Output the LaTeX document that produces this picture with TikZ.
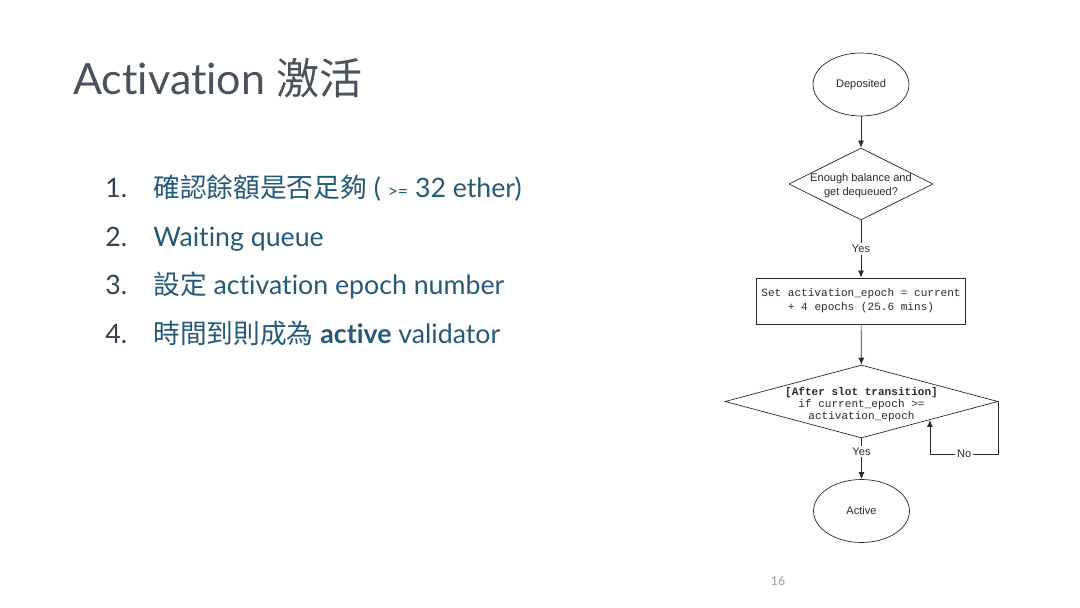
\documentclass[tikz,border=0pt]{standalone}
\usepackage{fontspec}
\setmainfont{Lato}[Ligatures=NoCommon]
\newfontfamily\cjk{Noto Sans CJK TC}
\newfontfamily\flowsans{Liberation Sans}
\newfontfamily\flowmono{Liberation Mono}
\usetikzlibrary{shapes.geometric,arrows.meta}

\definecolor{titlegray}{HTML}{4A525C}
\definecolor{itemblue}{HTML}{235A78}
\definecolor{numgray}{HTML}{33434F}
\definecolor{flowink}{HTML}{2B2B2B}
\definecolor{pagegray}{HTML}{9A9A9A}

% text inside a diamond, kept out of the shape size
\newcommand{\dtext}[2][-2.4pt]{\smash{\makebox[0pt]{\raisebox{#1}{\begin{tabular}{@{}c@{}}#2\end{tabular}}}}}

\tikzset{
  slidetitle/.style={anchor=base west, inner sep=0pt, text=titlegray,
    font=\fontsize{24.5}{30}\selectfont},
  listnum/.style={anchor=base west, inner sep=0pt, text=numgray,
    font=\fontsize{15.2}{19}\selectfont},
  listitem/.style={anchor=base west, inner sep=0pt, text=itemblue,
    font=\fontsize{15.2}{19}\selectfont},
  state/.style={ellipse, draw=flowink, inner sep=0pt, text=flowink,
    minimum width=1.92cm, minimum height=1.26cm,
    font=\flowsans\fontsize{6.3}{7.9}\selectfont},
  decision/.style={diamond, draw=flowink, inner sep=0pt, text=flowink,
    minimum width=2.88cm, minimum height=1.44cm,
    font=\flowsans\fontsize{6.3}{7.9}\selectfont},
  process/.style={rectangle, draw=flowink, inner sep=0pt, text=flowink, align=center,
    minimum width=4.18cm, minimum height=0.92cm, text depth=2pt,
    font=\flowmono\fontsize{6.3}{7.9}\selectfont},
  flowline/.style={draw=flowink, -{Latex[length=4pt,width=3.4pt]}},
  yesno/.style={fill=white, inner sep=1pt, text=flowink,
    font=\flowsans\fontsize{6.3}{7.9}\selectfont}
}

\begin{document}
\begin{tikzpicture}[x=0.02cm,y=-0.02cm]
  \useasboundingbox[fill=white] (0,0) rectangle (1080,608);

  % slide text
  \node[slidetitle] (title) at (73,95) {Activation {\cjk 激活}};
  \node[listnum] (num1) at (105,198) {1.};
  \node[listnum] (num2) at (105,247) {2.};
  \node[listnum] (num3) at (105,295) {3.};
  \node[listnum] (num4) at (105,343) {4.};
  \node[listitem] (item1) at (153,198)
    {{\cjk 確認餘額是否足夠} ( {\fontsize{10}{12}\selectfont >=} 32 ether)};
  \node[listitem] (item2) at (153,247) {Waiting queue};
  \node[listitem] (item3) at (153,295) {{\cjk 設定} activation epoch number};
  \node[listitem] (item4) at (153,343) {{\cjk 時間到則成為} \textbf{active} validator};
  \node[anchor=base, inner sep=0pt, text=pagegray, font=\fontsize{7}{8}\selectfont]
    (pagenum) at (778,585) {16};

  % flow chart
  \node[state] (deposited) at (861,84.5) {Deposited};
  \node[decision] (balance) at (861,184) {\dtext{Enough balance and\\get dequeued?}};
  \node[process] (setepoch) at (861,301) {Set activation\_epoch = current\\+ 4 epochs (25.6 mins)};
  \node[decision, minimum width=5.46cm, minimum height=1.46cm,
    font=\flowmono\fontsize{6.3}{6.8}\selectfont]
    (slotcheck) at (861.5,401.5)
    {\dtext[-3.4pt]{\textbf{[After slot transition]}\\if current\_epoch >=\\activation\_epoch}};
  \node[state] (active) at (861.5,511) {Active};

  \draw[flowline] (deposited) -- (balance);
  \draw[flowline] (balance) -- node[yesno] {Yes} (setepoch);
  \draw[flowline] (setepoch) -- (slotcheck);
  \draw[flowline] (slotcheck) -- node[yesno, pos=0.33] {Yes} (active);
  \draw[flowline] (slotcheck.east) -- ++(0,52.5)
    -| node[yesno, pos=0.25] {No} (slotcheck.south east);
\end{tikzpicture}
\end{document}
